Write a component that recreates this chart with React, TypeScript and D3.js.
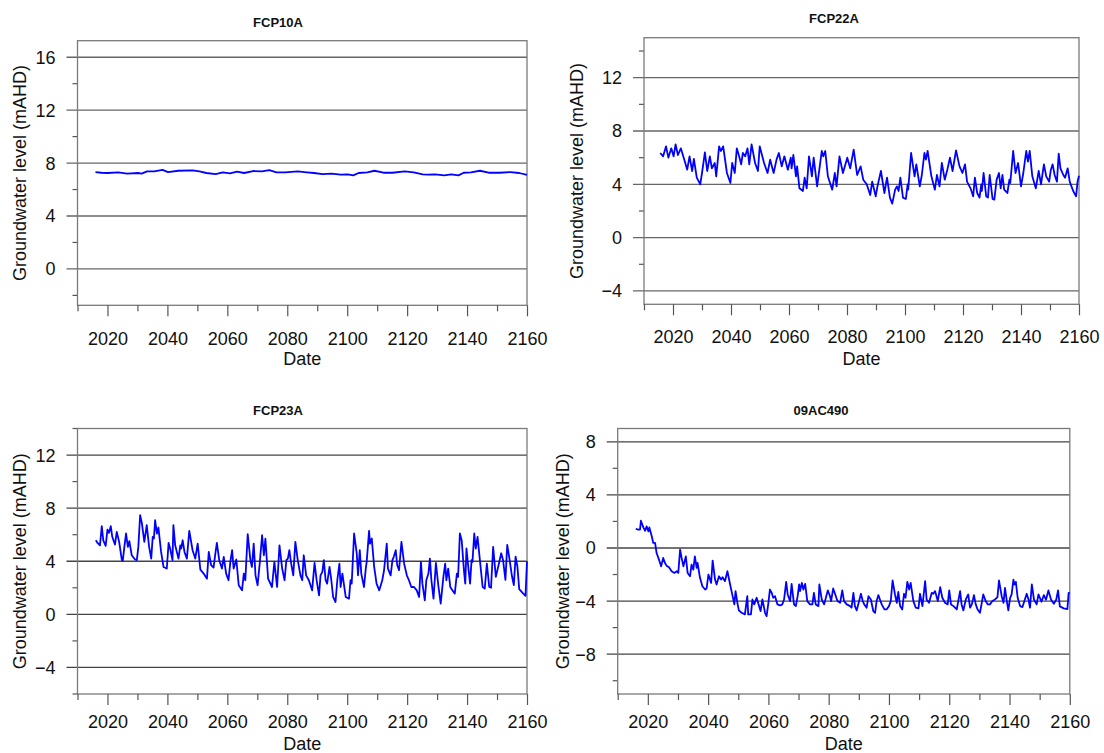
import React, { useEffect, useRef } from 'react'
import * as d3 from 'd3'

type Pt = [number, number]

// x axis (years)
const yearTicks = [2020, 2040, 2060, 2080, 2100, 2120, 2140, 2160]
const yearMinor = [2010, 2030, 2050, 2070, 2090, 2110, 2130, 2150]

// y axis ticks per bore
const ticks10a = [0, 4, 8, 12, 16]
const minor10a = [-2, 2, 6, 10, 14]
const ticks22a = [-4, 0, 4, 8, 12]
const minor22a = [-2, 2, 6, 10, 14]
const ticks23a = [-4, 0, 4, 8, 12]
const minor23a = [-6, -2, 2, 6, 10, 14]
const ticks490 = [-8, -4, 0, 4, 8]
const minor490 = [-10, -6, -2, 2, 6]

// groundwater level (mAHD), [year, level]
const fcp10a: Pt[] = [
  [2016, 7.32], [2018, 7.27], [2020, 7.25], [2023.6, 7.3], [2026.6, 7.2], [2030.2, 7.25], [2031.4, 7.2],
  [2033.2, 7.37], [2035.6, 7.37], [2038.4, 7.48], [2040.2, 7.32], [2043.6, 7.42], [2048.4, 7.45],
  [2050.7, 7.37], [2053, 7.25], [2056.1, 7.17], [2058.5, 7.3], [2060.9, 7.22], [2063.2, 7.35],
  [2065.6, 7.25], [2068.6, 7.4], [2071.6, 7.37], [2074, 7.47], [2076.4, 7.3], [2079.3, 7.3],
  [2083.5, 7.37], [2086.5, 7.3], [2088.9, 7.25], [2091.8, 7.17], [2094.8, 7.2], [2097.8, 7.12],
  [2100.2, 7.15], [2102, 7.07], [2103.8, 7.25], [2106.7, 7.3], [2109.1, 7.42], [2112.1, 7.27],
  [2115.1, 7.27], [2119.2, 7.37], [2122.2, 7.3], [2125.2, 7.15], [2127, 7.12], [2129.4, 7.15],
  [2132.4, 7.07], [2134.7, 7.15], [2137.1, 7.07], [2138.9, 7.27], [2141.3, 7.3], [2144.3, 7.42],
  [2147.2, 7.27], [2150.8, 7.27], [2154.4, 7.32], [2157.4, 7.25], [2160, 7.1]
]

const fcp22a: Pt[] = [
  [2015.6, 6.35], [2016.6, 6.1], [2017.6, 6.85], [2018.4, 6.0], [2019.4, 6.7], [2020.2, 6.1], [2020.9, 7.0],
  [2021.7, 6.2], [2022.7, 6.7], [2023.9, 5.85], [2024.9, 5.1], [2025.7, 6.1], [2026.6, 5.0], [2027.2, 5.9],
  [2028.2, 4.5], [2029.4, 4.0], [2030.0, 4.85], [2031.0, 6.4], [2031.8, 5.0], [2032.7, 6.1], [2033.4, 5.2],
  [2034.4, 5.6], [2034.9, 4.6], [2035.9, 6.85], [2036.5, 6.5], [2037.3, 6.85], [2038.6, 4.85], [2039.8, 4.1],
  [2040.4, 5.6], [2041.3, 4.85], [2042.0, 6.7], [2042.8, 6.1], [2043.5, 5.5], [2044.1, 6.35], [2044.9, 6.1],
  [2045.7, 6.7], [2046.3, 5.5], [2047.1, 7.0], [2048.3, 5.6], [2049.3, 5.0], [2049.9, 6.85], [2051.4, 5.6],
  [2052.6, 4.85], [2053.5, 5.85], [2054.7, 4.85], [2055.7, 5.85], [2056.5, 6.35], [2057.5, 5.35], [2058.4, 6.1],
  [2059.6, 5.1], [2060.6, 6.0], [2060.9, 5.2], [2061.5, 6.2], [2062.4, 4.6], [2062.8, 5.35], [2063.6, 3.7],
  [2064.8, 3.5], [2065.4, 4.5], [2066.1, 3.7], [2066.9, 6.1], [2067.9, 4.6], [2068.5, 6.0], [2069.7, 3.85],
  [2070.6, 5.35], [2071.3, 6.5], [2071.8, 6.1], [2072.5, 6.5], [2073.4, 4.6], [2074.9, 3.6], [2075.8, 4.85],
  [2076.4, 3.85], [2077.4, 6.1], [2078.6, 4.85], [2080.1, 6.0], [2081.1, 5.2], [2082.3, 6.6], [2083.5, 4.7],
  [2084.7, 5.35], [2085.6, 4.35], [2086.8, 4.0], [2088.0, 3.2], [2088.7, 4.2], [2089.9, 3.1], [2090.5, 3.85],
  [2091.7, 5.0], [2092.9, 3.35], [2093.8, 4.5], [2094.8, 3.0], [2095.6, 2.55], [2096.6, 3.6], [2097.2, 3.85],
  [2097.8, 3.5], [2098.4, 4.5], [2099.3, 3.0], [2100.3, 2.9], [2100.9, 4.0], [2101.1, 3.6], [2102.1, 6.35],
  [2103.3, 4.6], [2103.9, 5.5], [2105.1, 3.85], [2105.8, 4.7], [2106.7, 6.35], [2107.2, 5.85], [2107.8, 6.5],
  [2109.1, 4.6], [2110.3, 3.6], [2111.0, 4.7], [2111.9, 3.85], [2112.7, 5.6], [2113.7, 4.35], [2114.6, 5.1],
  [2115.5, 6.0], [2116.4, 5.0], [2117.6, 6.55], [2118.8, 5.35], [2119.8, 4.85], [2120.7, 5.5], [2121.4, 4.2],
  [2122.6, 3.7], [2123.5, 3.1], [2124.1, 4.5], [2124.9, 3.35], [2125.7, 3.0], [2126.3, 4.0], [2126.5, 3.5],
  [2127.1, 4.85], [2128.0, 3.1], [2128.6, 3.0], [2129.2, 4.7], [2130.2, 2.9], [2130.8, 2.85], [2131.6, 4.35],
  [2132.4, 4.85], [2133.0, 3.7], [2133.6, 4.7], [2134.2, 3.6], [2135.3, 3.35], [2136.0, 4.35], [2136.3, 4.1],
  [2137.3, 6.5], [2138.1, 4.85], [2139.0, 5.6], [2140.0, 3.85], [2140.8, 4.85], [2141.8, 6.5], [2142.4, 5.7],
  [2143.0, 6.5], [2143.9, 4.6], [2145.1, 3.7], [2146.1, 5.0], [2146.9, 4.0], [2147.9, 5.5], [2148.7, 4.6],
  [2149.7, 4.2], [2150.3, 5.1], [2150.9, 5.5], [2151.6, 4.7], [2152.4, 4.2], [2153.0, 6.3], [2153.6, 5.2],
  [2154.6, 4.7], [2155.2, 4.5], [2156.1, 5.2], [2156.8, 4.2], [2158.0, 3.5], [2159.0, 3.1], [2159.5, 4.2],
  [2160, 4.65]
]

const fcp23a: Pt[] = [
  [2016.1, 5.58], [2016.7, 5.38], [2017.5, 5.2], [2018.1, 6.64], [2018.6, 5.58], [2019.4, 5.16], [2020.0, 6.39],
  [2020.5, 6.14], [2021.1, 6.64], [2021.6, 5.84], [2022.5, 5.26], [2023.1, 6.21], [2023.9, 5.46], [2024.8, 4.08],
  [2025.1, 4.03], [2025.7, 5.2], [2026.2, 6.09], [2026.8, 5.08], [2027.3, 5.51], [2028.1, 4.45], [2029.2, 4.13],
  [2029.8, 4.08], [2030.3, 5.08], [2030.9, 7.47], [2031.5, 6.84], [2032.3, 5.46], [2033.1, 6.72], [2033.9, 5.08],
  [2034.6, 4.2], [2035.1, 5.84], [2035.5, 5.71], [2035.9, 7.09], [2036.5, 6.09], [2037.0, 6.54], [2037.9, 4.7],
  [2038.7, 3.57], [2039.8, 3.45], [2040.4, 5.38], [2040.9, 4.96], [2041.7, 4.08], [2042.0, 6.72], [2042.6, 5.2],
  [2043.7, 4.2], [2044.3, 5.2], [2044.6, 4.96], [2045.1, 5.58], [2045.7, 4.7], [2046.5, 4.2], [2047.3, 6.29],
  [2048.4, 4.83], [2049.3, 4.2], [2050.1, 5.33], [2051.0, 3.37], [2052.1, 3.07], [2053.2, 2.69], [2053.8, 4.7],
  [2054.6, 3.7], [2055.4, 3.52], [2056.0, 4.58], [2056.5, 5.38], [2057.3, 4.08], [2058.2, 3.45], [2058.8, 4.33],
  [2059.6, 3.07], [2060.4, 2.57], [2061.0, 3.95], [2061.6, 4.83], [2062.1, 3.45], [2063.0, 4.13], [2063.8, 2.19],
  [2064.9, 1.81], [2065.5, 3.07], [2066.0, 2.57], [2066.8, 6.04], [2067.7, 4.08], [2068.2, 3.57], [2068.8, 5.33],
  [2069.4, 2.94], [2070.1, 2.19], [2070.8, 3.82], [2071.6, 5.96], [2072.2, 4.45], [2072.7, 5.71], [2073.6, 2.69],
  [2074.9, 2.06], [2075.7, 3.95], [2076.6, 2.06], [2077.4, 5.2], [2078.3, 3.45], [2079.1, 2.57], [2079.7, 4.08],
  [2080.2, 4.2], [2080.7, 4.83], [2081.3, 3.82], [2082.0, 2.94], [2082.7, 5.46], [2083.5, 4.08], [2084.4, 2.94],
  [2085.0, 2.57], [2085.5, 4.45], [2086.3, 2.94], [2087.2, 2.57], [2088.3, 1.81], [2089.1, 3.87], [2089.8, 2.57],
  [2090.6, 1.43], [2091.1, 2.94], [2091.7, 3.2], [2092.2, 4.08], [2092.8, 2.57], [2093.3, 2.31], [2094.1, 3.57],
  [2094.7, 2.57], [2095.3, 1.31], [2096.1, 0.93], [2096.7, 2.57], [2097.4, 3.82], [2097.8, 2.06], [2098.4, 3.07],
  [2099.5, 1.31], [2100.6, 1.18], [2101.1, 2.57], [2101.5, 2.31], [2102.3, 6.09], [2103.2, 4.58], [2103.6, 2.94],
  [2104.2, 4.83], [2104.7, 3.07], [2105.6, 2.06], [2106.2, 3.45], [2106.5, 3.95], [2107.3, 6.29], [2107.6, 5.33],
  [2108.2, 5.71], [2109.0, 3.57], [2109.8, 2.31], [2110.7, 1.81], [2111.7, 2.57], [2112.3, 3.32], [2113.2, 5.33],
  [2113.6, 3.45], [2114.5, 2.94], [2115.1, 4.08], [2115.6, 4.38], [2116.2, 4.83], [2116.7, 3.7], [2117.3, 3.32],
  [2118.1, 5.46], [2119.0, 3.82], [2119.9, 2.94], [2120.6, 2.57], [2121.4, 2.06], [2122.3, 2.06], [2123.2, 1.81],
  [2124.0, 1.31], [2124.6, 3.95], [2125.1, 2.31], [2125.9, 1.06], [2126.4, 2.57], [2127.1, 3.07], [2127.6, 4.2],
  [2128.1, 2.57], [2128.8, 1.18], [2129.6, 3.87], [2130.4, 2.19], [2131.2, 0.81], [2132.1, 2.82], [2132.7, 3.82],
  [2133.1, 2.57], [2133.7, 3.45], [2134.4, 2.06], [2135.1, 1.81], [2135.9, 1.56], [2136.6, 3.07], [2137.0, 2.82],
  [2137.6, 6.09], [2138.2, 5.58], [2139.0, 3.2], [2139.4, 2.31], [2139.8, 4.96], [2140.4, 3.57], [2141.0, 2.31],
  [2141.5, 4.08], [2141.8, 3.95], [2142.4, 6.09], [2142.9, 4.96], [2143.5, 5.84], [2144.4, 3.82], [2145.2, 2.06],
  [2145.9, 1.94], [2146.6, 3.82], [2147.4, 2.06], [2148.0, 2.0], [2148.7, 5.08], [2149.6, 2.82], [2150.5, 3.7],
  [2151.4, 4.6], [2152.0, 4.1], [2152.8, 2.6], [2153.4, 5.23], [2154.2, 4.1], [2155.0, 2.85], [2155.6, 2.2],
  [2156.2, 4.35], [2156.8, 3.6], [2157.4, 1.9], [2158.6, 1.6], [2159.5, 1.4], [2160, 4.0]
]

const ac490: Pt[] = [
  [2016.0, 1.45], [2016.8, 1.38], [2017.4, 1.38], [2017.7, 2.05], [2018.5, 1.55], [2019.1, 1.3], [2019.6, 1.63],
  [2020.2, 1.25], [2020.5, 1.55], [2021.3, 0.88], [2021.8, 0.38], [2022.4, 0.38], [2022.9, -0.38], [2023.7, -0.88],
  [2024.4, -1.38], [2025.1, -0.75], [2025.7, -1.13], [2026.2, -1.33], [2027.0, -1.45], [2027.9, -1.75],
  [2028.8, -1.88], [2029.6, -1.75], [2030.1, -1.88], [2030.7, -0.13], [2031.2, -0.75], [2031.8, -1.38],
  [2032.6, -0.63], [2033.2, -1.88], [2034.0, -2.13], [2034.5, -1.25], [2035.1, -1.63], [2035.6, -0.63],
  [2036.2, -1.5], [2036.5, -1.13], [2037.3, -2.25], [2038.1, -2.88], [2039.0, -3.13], [2039.5, -3.05],
  [2040.1, -2.0], [2041.0, -2.63], [2041.5, -0.95], [2042.3, -2.38], [2042.8, -2.75], [2043.6, -2.13],
  [2044.3, -2.38], [2044.8, -2.2], [2045.6, -2.5], [2046.4, -1.75], [2047.3, -2.75], [2048.0, -3.5],
  [2048.7, -4.25], [2049.1, -3.25], [2049.8, -4.25], [2050.2, -4.7], [2051.1, -4.88], [2052.2, -5.0],
  [2053.0, -3.63], [2053.3, -5.0], [2054.2, -5.0], [2054.7, -3.88], [2055.3, -4.25], [2056.1, -3.75],
  [2056.9, -4.38], [2057.4, -4.75], [2058.0, -3.88], [2058.9, -4.88], [2059.4, -5.13], [2060.0, -4.13],
  [2060.5, -3.13], [2061.1, -3.38], [2061.6, -3.75], [2062.2, -3.63], [2063.0, -4.25], [2063.9, -4.33],
  [2064.6, -4.25], [2065.2, -3.88], [2065.9, -2.55], [2066.4, -3.5], [2067.2, -4.0], [2067.7, -2.7],
  [2068.5, -4.25], [2069.1, -4.38], [2069.7, -3.63], [2070.2, -2.75], [2070.5, -3.25], [2071.1, -2.63],
  [2071.6, -3.13], [2072.2, -2.7], [2072.9, -4.0], [2073.8, -4.25], [2074.6, -4.25], [2075.1, -3.38],
  [2075.7, -4.25], [2076.6, -4.38], [2076.9, -2.75], [2077.7, -3.88], [2078.5, -4.25], [2079.7, -3.2],
  [2080.4, -3.6], [2080.8, -4.0], [2081.5, -3.05], [2082.1, -3.45], [2082.9, -4.0], [2083.8, -4.13],
  [2084.5, -3.2], [2085.1, -4.0], [2086.0, -4.25], [2087.1, -4.38], [2087.6, -4.5], [2088.2, -3.38],
  [2088.7, -4.38], [2089.3, -4.7], [2090.1, -4.0], [2090.7, -3.45], [2091.3, -4.0], [2091.8, -4.25],
  [2092.6, -4.5], [2093.2, -3.63], [2094.0, -3.88], [2094.8, -4.75], [2095.4, -4.88], [2095.9, -4.0],
  [2096.5, -3.55], [2097.0, -3.88], [2097.6, -4.25], [2098.5, -4.63], [2099.2, -4.63], [2100.0, -4.38],
  [2100.6, -4.0], [2101.2, -2.45], [2102.0, -3.5], [2102.6, -4.13], [2103.1, -3.3], [2103.7, -4.38],
  [2104.4, -4.63], [2105.0, -3.45], [2105.5, -3.75], [2106.1, -2.55], [2106.7, -3.13], [2107.2, -2.63],
  [2108.1, -4.0], [2108.9, -4.5], [2109.8, -4.55], [2110.3, -3.45], [2111.1, -4.38], [2112.0, -2.5],
  [2112.5, -3.88], [2113.3, -4.13], [2114.2, -3.38], [2114.7, -3.45], [2115.3, -3.25], [2116.2, -4.0],
  [2117.0, -2.95], [2117.7, -3.75], [2118.6, -4.13], [2119.5, -4.25], [2120.0, -3.2], [2120.6, -4.25],
  [2121.4, -4.38], [2122.5, -4.63], [2123.6, -3.25], [2124.1, -4.25], [2124.7, -4.7], [2125.5, -3.88],
  [2126.3, -3.5], [2126.9, -4.5], [2127.5, -4.25], [2128.2, -3.55], [2128.8, -4.25], [2129.4, -4.63],
  [2130.2, -4.88], [2131.3, -3.5], [2132.1, -4.0], [2132.8, -4.25], [2133.5, -4.25], [2134.3, -4.0],
  [2135.2, -3.88], [2136.0, -3.7], [2136.5, -2.45], [2137.4, -3.63], [2138.0, -4.13], [2138.5, -3.0],
  [2139.1, -4.0], [2139.6, -4.7], [2140.2, -3.75], [2140.7, -3.5], [2141.3, -2.38], [2141.6, -2.75],
  [2142.1, -2.55], [2142.7, -3.75], [2143.5, -4.38], [2144.3, -4.45], [2145.1, -3.88], [2145.7, -3.45],
  [2146.3, -3.88], [2146.8, -4.5], [2147.4, -2.75], [2148.1, -3.88], [2149.0, -4.25], [2149.6, -3.5],
  [2150.6, -4.05], [2151.4, -3.55], [2152.1, -3.9], [2152.9, -3.2], [2153.8, -3.9], [2154.7, -4.2],
  [2155.5, -3.9], [2156.1, -3.2], [2156.7, -4.4], [2158.0, -4.55], [2159.2, -4.6], [2159.6, -3.4],
  [2160, -3.35]
]

const panels = [
  {
    title: 'FCP10A', data: fcp10a, ticks: ticks10a, minor: minor10a, domain: [-2.75, 17.25],
    left: 77.5, right: 527, top: 40.7, bottom: 305.3,
    titleX: 278, titleY: 27, labelX: 19.6, tickY: 345, dateY: 365, grid: '#666'
  },
  {
    title: 'FCP22A', data: fcp22a, ticks: ticks22a, minor: minor22a, domain: [-5, 15],
    left: 644, right: 1079, top: 37.7, bottom: 304.3,
    titleX: 834, titleY: 23.3, labelX: 576.6, tickY: 343.5, dateY: 365, grid: '#666'
  },
  {
    title: 'FCP23A', data: fcp23a, ticks: ticks23a, minor: minor23a, domain: [-6, 14],
    left: 77.5, right: 527, top: 428.5, bottom: 694,
    titleX: 278, titleY: 415, labelX: 19.6, tickY: 728, dateY: 750, grid: '#444'
  },
  {
    title: '09AC490', data: ac490, ticks: ticks490, minor: minor490, domain: [-11, 9],
    left: 617.7, right: 1069.8, top: 428.5, bottom: 694,
    titleX: 821, titleY: 415, labelX: 563, tickY: 728, dateY: 750, grid: '#444'
  }
]

const FONT = '"Liberation Sans", Arial, sans-serif'

function drawPanel(svg: d3.Selection<SVGSVGElement, unknown, null, undefined>, p: typeof panels[number]) {
  const x = d3.scaleLinear().domain([2010, 2160]).range([p.left, p.right])
  const y = d3.scaleLinear().domain(p.domain).range([p.bottom, p.top])

  const g = svg.append('g').attr('font-family', FONT)

  // horizontal grid lines, running out over the axis as major ticks
  g.append('g')
    .selectAll('line')
    .data(p.ticks)
    .join('line')
    .attr('x1', p.left - 11)
    .attr('x2', p.right)
    .attr('y1', d => y(d))
    .attr('y2', d => y(d))
    .attr('stroke', p.grid)
    .attr('stroke-width', 1.3)

  g.append('g')
    .selectAll('line')
    .data(p.minor)
    .join('line')
    .attr('x1', p.left - 5)
    .attr('x2', p.left)
    .attr('y1', d => y(d))
    .attr('y2', d => y(d))
    .attr('stroke', '#555')
    .attr('stroke-width', 1.2)

  // frame
  g.append('rect')
    .attr('x', p.left)
    .attr('y', p.top)
    .attr('width', p.right - p.left)
    .attr('height', p.bottom - p.top)
    .attr('fill', 'none')
    .attr('stroke', '#7a7a7a')
    .attr('stroke-width', 1.3)

  // x axis ticks
  const xMajor = d3.axisBottom(x).tickValues(yearTicks).tickSize(11).tickFormat(d3.format('d'))
  const xMinor = d3.axisBottom(x).tickValues(yearMinor).tickSize(6).tickFormat(() => '')

  const xa = g.append('g').attr('transform', `translate(0,${p.bottom})`).call(xMajor)
  g.append('g').attr('transform', `translate(0,${p.bottom})`).call(xMinor)
    .call(a => a.select('.domain').remove())
    .selectAll('line').attr('stroke', '#555').attr('stroke-width', 1.2)
  xa.select('.domain').remove()
  xa.selectAll('line').attr('stroke', '#555').attr('stroke-width', 1.2)
  xa.selectAll('text')
    .attr('y', p.tickY - p.bottom)
    .attr('dy', null)
    .attr('font-size', 18)
    .attr('font-family', FONT)
    .attr('fill', '#111')

  // y tick labels
  g.append('g')
    .selectAll('text')
    .data(p.ticks)
    .join('text')
    .attr('x', p.left - 22)
    .attr('y', d => y(d))
    .attr('dy', '0.36em')
    .attr('text-anchor', 'end')
    .attr('font-size', 18)
    .attr('fill', '#111')
    .text(d => d3.format('d')(d))

  // titles and axis labels
  g.append('text')
    .attr('x', p.titleX)
    .attr('y', p.titleY)
    .attr('text-anchor', 'middle')
    .attr('font-size', 13)
    .attr('font-weight', 'bold')
    .attr('fill', '#111')
    .text(p.title)

  g.append('text')
    .attr('x', (p.left + p.right) / 2)
    .attr('y', p.dateY)
    .attr('text-anchor', 'middle')
    .attr('font-size', 18)
    .attr('fill', '#111')
    .text('Date')

  g.append('text')
    .attr('transform', `translate(${p.labelX},${(p.top + p.bottom) / 2}) rotate(-90)`)
    .attr('dy', '0.35em')
    .attr('text-anchor', 'middle')
    .attr('font-size', 18)
    .attr('fill', '#111')
    .text('Groundwater level (mAHD)')

  // hydrograph
  const line = d3.line<Pt>()
    .x(d => x(d[0]))
    .y(d => y(d[1]))

  g.append('path')
    .datum(p.data)
    .attr('d', line)
    .attr('fill', 'none')
    .attr('stroke', '#0000ff')
    .attr('stroke-width', 1.8)
    .attr('stroke-linejoin', 'round')
}

export default function App() {
  const ref = useRef<SVGSVGElement>(null)

  useEffect(() => {
    const svg = d3.select(ref.current as SVGSVGElement)
    svg.selectAll('*').remove()
    panels.forEach(p => drawPanel(svg, p))
  }, [])

  return (
    <svg
      ref={ref}
      width={1104}
      height={753}
      style={{ position: 'absolute', left: 0, top: 0, background: '#fff' }}
    />
  )
}
